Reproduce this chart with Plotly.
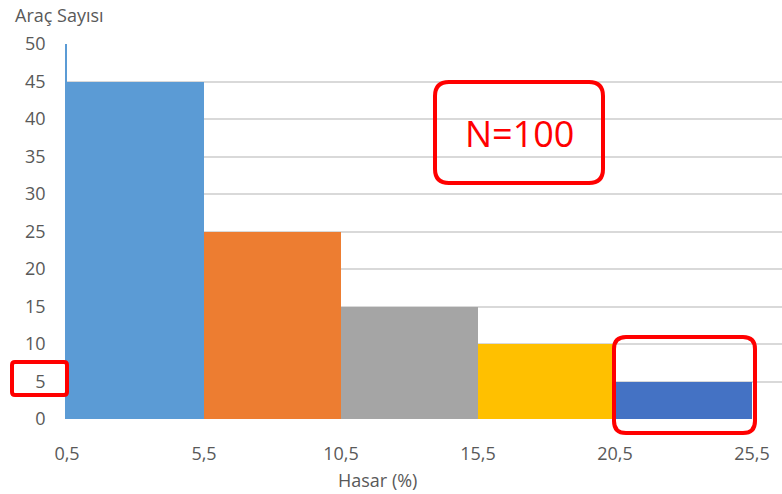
import plotly.graph_objects as go

# Data
bin_left = [0.5, 5.5, 10.5, 15.5, 20.5]
bin_width = [5, 5, 5, 5, 5]
counts = [45, 25, 15, 10, 5]
bar_colors = ["#5B9BD5", "#ED7D31", "#A5A5A5", "#FFC000", "#4472C4"]
x_tickvals = [0.5, 5.5, 10.5, 15.5, 20.5, 25.5]
x_ticktext = ["0,5", "5,5", "10,5", "15,5", "20,5", "25,5"]
y_tickvals = [0, 5, 10, 15, 20, 25, 30, 35, 40, 45, 50]

W, H = 782, 494
L, R, T, B = 67, 0, 44, 75
PW, PH = W - L - R, H - T - B

FONT = "Open Sans"
GREY = "#595959"

def px(xp):
    return (xp - L) / PW

def py(yp):
    return (H - B - yp) / PH

def rounded_rect(x0, y0, x1, y1, r):
    # pixel coordinates -> paper path with rounded corners
    pts = []
    pts.append(f"M {px(x0 + r)},{py(y0)}")
    pts.append(f"L {px(x1 - r)},{py(y0)}")
    pts.append(f"Q {px(x1)},{py(y0)} {px(x1)},{py(y0 + r)}")
    pts.append(f"L {px(x1)},{py(y1 - r)}")
    pts.append(f"Q {px(x1)},{py(y1)} {px(x1 - r)},{py(y1)}")
    pts.append(f"L {px(x0 + r)},{py(y1)}")
    pts.append(f"Q {px(x0)},{py(y1)} {px(x0)},{py(y1 - r)}")
    pts.append(f"L {px(x0)},{py(y0 + r)}")
    pts.append(f"Q {px(x0)},{py(y0)} {px(x0 + r)},{py(y0)}")
    pts.append("Z")
    return " ".join(pts)

centers = [l + w / 2 for l, w in zip(bin_left, bin_width)]

fig = go.Figure(go.Bar(
    x=centers, y=counts, width=bin_width,
    marker=dict(color=bar_colors, line=dict(width=0)),
    hoverinfo="skip",
))

shapes = [
    dict(type="path", xref="paper", yref="paper",
         path=rounded_rect(435, 82, 603, 183, 14),
         line=dict(color="#FF0000", width=4)),
    dict(type="path", xref="paper", yref="paper",
         path=rounded_rect(12, 362, 67, 395, 3),
         line=dict(color="#FF0000", width=4)),
    dict(type="path", xref="paper", yref="paper",
         path=rounded_rect(614, 337, 755, 433, 12),
         line=dict(color="#FF0000", width=4)),
]

annotations = [
    dict(text="N=100", xref="paper", yref="paper", x=px(519), y=py(133),
         xanchor="center", yanchor="middle", showarrow=False,
         font=dict(family=FONT, size=36, color="#FF0000")),
    dict(text="Araç Sayısı", xref="paper", yref="paper", x=px(13), y=py(15),
         xanchor="left", yanchor="middle", showarrow=False,
         font=dict(family=FONT, size=18, color=GREY)),
    dict(text="Hasar (%)", xref="paper", yref="paper", x=px(377), y=py(480),
         xanchor="center", yanchor="middle", showarrow=False,
         font=dict(family=FONT, size=18, color=GREY)),
]

fig.update_layout(
    width=W, height=H,
    margin=dict(l=L, r=R, t=T, b=B),
    paper_bgcolor="white", plot_bgcolor="white",
    bargap=0, showlegend=False,
    shapes=shapes, annotations=annotations,
    xaxis=dict(range=[0.5, 0.5 + PW / 27.4], tickvals=x_tickvals, ticktext=x_ticktext,
               showgrid=False, zeroline=False, showline=False, ticks="",
               tickfont=dict(family=FONT, size=18, color=GREY),
               ticklabelstandoff=22),
    yaxis=dict(range=[0, 50], tickvals=y_tickvals, showgrid=True,
               gridcolor="#D9D9D9", gridwidth=1.5, zeroline=False,
               showline=True, linecolor="#5B9BD5", linewidth=1.5, ticks="",
               tickfont=dict(family=FONT, size=18, color=GREY),
               ticklabelstandoff=16),
)

fig.write_html("out.html")
